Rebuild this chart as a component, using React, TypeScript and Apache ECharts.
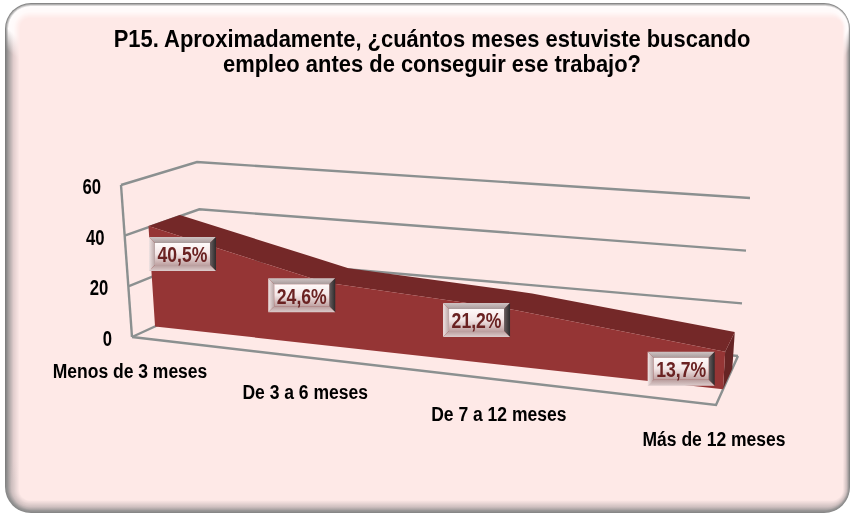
import React, { useEffect, useRef } from "react";
import * as echarts from "echarts";

const titleLines = ["P15. Aproximadamente, ¿cuántos meses estuviste buscando", "empleo antes de conseguir ese trabajo?"];
const categories = ["Menos de 3 meses", "De 3 a 6 meses", "De 7 a 12 meses", "Más de 12 meses"];
const values = [40.5, 24.6, 21.2, 13.7];
const dataLabels = ["40,5%", "24,6%", "21,2%", "13,7%"];
const valueTicks = [0, 20, 40, 60];

// layout of the 3D box
const W = 853, H = 515;
const GRID = { left: 100, top: 50, width: 600, height: 400 };
const FLOOR = { fl: [132, 337], fr: [716, 405], bl: [204, 304], br: [738, 356] };
const TOP = { fl: [121, 185], fr: [724, 237], bl: [197, 162], br: [750, 198] };
const PERSPECTIVE = 1.167;
const DEPTH_FRONT = 0.32, DEPTH_BACK = 0.74;
const LABEL_OFFSETS = [[34, 28], [-22, 13], [-38, 10], [-44, 17]];
const FONT = "'Liberation Sans',Arial,sans-serif";

const mix = (a: number[], b: number[], t: number) => [a[0] + (b[0] - a[0]) * t, a[1] + (b[1] - a[1]) * t];

function makeProjector(api: any) {
  return (cat: number, val: number, depth: number) => {
    const p = api.coord([cat, val]);
    const u = (p[0] - GRID.left) / GRID.width;
    const v = (GRID.top + GRID.height - p[1]) / GRID.height;
    const s = u / (u + PERSPECTIVE * (1 - u));
    const floor = mix(mix(FLOOR.fl, FLOOR.fr, s), mix(FLOOR.bl, FLOOR.br, s), depth);
    const top = mix(mix(TOP.fl, TOP.fr, s), mix(TOP.bl, TOP.br, s), depth);
    return mix(floor, top, v);
  };
}

function narrowText(text: string, x: number, y: number, size: number, scaleX: number, fill: string, align = "center") {
  return {
    type: "text",
    x,
    y,
    scaleX,
    silent: true,
    style: { text, x: 0, y: 0, align, verticalAlign: "middle", fontFamily: FONT, fontWeight: "bold", fontSize: size, fill },
  };
}

const LINE = { stroke: "#8b9090", lineWidth: 2.4, fill: null as any };
const lastCat = categories.length - 1;
const maxTick = valueTicks[valueTicks.length - 1];

function renderWall(_: any, api: any) {
  const P = makeProjector(api);
  const v = api.value(1);
  const corner = P(0, v, 0);
  const children: any[] = [
    { type: "polyline", shape: { points: [P(0, v, 0), P(0, v, 1), P(lastCat, v, 1)] }, style: LINE },
    narrowText(String(v), corner[0] - 20, corner[1] + 1, 22, 0.76, "#000", "right"),
  ];
  if (v === 0) {
    children.push({
      type: "polyline",
      shape: { points: [P(0, 0, 0), P(lastCat, 0, 0), P(lastCat, 0, 1)] },
      style: LINE,
    });
    children.push({ type: "line", shape: { x1: P(0, 0, 0)[0], y1: P(0, 0, 0)[1], x2: P(0, maxTick, 0)[0], y2: P(0, maxTick, 0)[1] }, style: LINE });
  }
  return { type: "group", children };
}

function renderArea(params: any, api: any) {
  if (params.dataIndex !== 0) return { type: "group", children: [] };
  const P = makeProjector(api);
  const idx = values.map((_, i) => i);
  const front = [...idx.map((i) => P(i, values[i], DEPTH_FRONT)), P(lastCat, 0, DEPTH_FRONT), P(0, 0, DEPTH_FRONT)];
  const top = [
    ...idx.map((i) => P(i, values[i], DEPTH_FRONT)),
    ...idx.slice().reverse().map((i) => P(i, values[i], DEPTH_BACK)),
  ];
  const side = [
    P(lastCat, values[lastCat], DEPTH_FRONT), P(lastCat, values[lastCat], DEPTH_BACK),
    P(lastCat, 0, DEPTH_BACK), P(lastCat, 0, DEPTH_FRONT),
  ];
  return {
    type: "group",
    children: [
      { type: "polygon", shape: { points: side }, style: { fill: "#662424" } },
      { type: "polygon", shape: { points: top }, style: { fill: "#742828" } },
      { type: "polygon", shape: { points: front }, style: { fill: "#953535" } },
    ],
  };
}

function renderDataLabel(params: any, api: any) {
  const P = makeProjector(api);
  const i = params.dataIndex;
  const a = P(i, api.value(1), DEPTH_FRONT);
  const cx = a[0] + LABEL_OFFSETS[i][0], cy = a[1] + LABEL_OFFSETS[i][1];
  const w = 67, h = 34, b = 6;
  const x0 = cx - w / 2, y0 = cy - h / 2, x1 = cx + w / 2, y1 = cy + h / 2;
  const trap = (pts: number[][], fill: any) => ({ type: "polygon", shape: { points: pts }, style: { fill } });
  const grad = (x: number, y: number, x2: number, y2: number, a1: string, a2: string) =>
    new echarts.graphic.LinearGradient(x, y, x2, y2, [{ offset: 0, color: a1 }, { offset: 1, color: a2 }]);
  return {
    type: "group",
    children: [
      trap([[x0, y0], [x1, y0], [x1 - b, y0 + b], [x0 + b, y0 + b]], grad(0, 0, 0, 1, "#cfc4c4", "#a89a9a")),
      trap([[x0, y0], [x0 + b, y0 + b], [x0 + b, y1 - b], [x0, y1]], grad(0, 0, 1, 0, "#f0e4e4", "#b8a4a4")),
      trap([[x1, y0], [x1 - b, y0 + b], [x1 - b, y1 - b], [x1, y1]], grad(0, 0, 1, 0, "#6a5f60", "#2c2a2b")),
      trap([[x0, y1], [x0 + b, y1 - b], [x1 - b, y1 - b], [x1, y1]], grad(0, 0, 0, 1, "#b89c9c", "#dccccc")),
      {
        type: "rect",
        shape: { x: x0 + b, y: y0 + b, width: w - 2 * b, height: h - 2 * b },
        style: {
          fill: new echarts.graphic.LinearGradient(0, 0, 0, 1, [
            { offset: 0, color: "#fffafa" },
            { offset: 0.5, color: "#f3e6e6" },
            { offset: 1, color: "#bfa2a2" },
          ]),
        },
      },
      narrowText(dataLabels[i], cx, cy + 0.5, 22, 0.8, "#6a2222"),
    ],
  };
}

function renderCategoryLabel(params: any, api: any) {
  const P = makeProjector(api);
  const a = P(api.value(0), 0, 0);
  return narrowText(categories[params.dataIndex], a[0] - 2, a[1] + 34.5, 20, 0.875, "#000");
}

// bevelled panel: nested rounded rectangles, each with its own top / side / bottom tint
const hex = (n: number) => Math.round(n).toString(16).padStart(2, "0");
const rgb = (c: number[]) => "#" + hex(c[0]) + hex(c[1]) + hex(c[2]);
const PINK = [254, 233, 231];
const ramp = (stops: number[][], i: number) => {
  for (let k = 1; k < stops.length; k++) {
    if (i <= stops[k][0]) {
      const t = (i - stops[k - 1][0]) / (stops[k][0] - stops[k - 1][0]);
      return [1, 2, 3].map((c) => stops[k - 1][c] + (stops[k][c] - stops[k - 1][c]) * t);
    }
  }
  return stops[stops.length - 1].slice(1);
};
const TOP_RAMP = [[0, 135, 135, 135], [1.5, 200, 198, 198], [3, 255, 252, 252], [8, 255, 250, 250], [15, ...PINK]];
const SIDE_RAMP = [[0, 125, 125, 125], [3, 165, 160, 160], [8, 225, 205, 205], [14, ...PINK]];
const BOTTOM_RAMP = [[0, 135, 135, 135], [2, 150, 148, 148], [6, 205, 190, 190], [14, ...PINK]];

function panel() {
  const rects: any[] = [
    { type: "rect", shape: { x: 0, y: 0, width: W, height: H }, style: { fill: "#ffffff" }, silent: true },
  ];
  for (let i = 0; i <= 15; i += 1) {
    const x = 5 + i, y = 3 + i;
    const width = 845 - 1.5 * i, height = 510 - 1.9 * i;
    const t = rgb(ramp(TOP_RAMP, i)), s = rgb(ramp(SIDE_RAMP, i)), b = rgb(ramp(BOTTOM_RAMP, i));
    rects.push({
      type: "rect",
      silent: true,
      shape: { x, y, width, height, r: Math.max(26 - i * 1.1, 6) },
      style: {
        fill: new echarts.graphic.LinearGradient(0, 0, 0, 1, [
          { offset: 0, color: t },
          { offset: 0.045, color: t },
          { offset: 0.09, color: s },
          { offset: 0.91, color: s },
          { offset: 0.955, color: b },
          { offset: 1, color: b },
        ]),
      },
    });
  }
  titleLines.forEach((text, i) => {
    rects.push({
      type: "text",
      silent: true,
      x: 432,
      y: 39 + i * 25,
      scaleX: 0.914,
      style: { text, x: 0, y: 0, align: "center", verticalAlign: "middle", fontFamily: FONT, fontWeight: "bold", fontSize: 24, fill: "#000" },
    });
  });
  return rects;
}

export default function App() {
  const ref = useRef<HTMLDivElement>(null);
  useEffect(() => {
    const chart = echarts.init(ref.current!, null, { renderer: "svg" });
    chart.setOption({
      animation: false,
      backgroundColor: "transparent",
      graphic: { elements: panel() },
      grid: { left: GRID.left, top: GRID.top, width: GRID.width, height: GRID.height },
      xAxis: { type: "category", data: categories, boundaryGap: false, show: false },
      yAxis: { type: "value", min: 0, max: maxTick, interval: 20, show: false },
      series: [
        { type: "custom", z: 2, silent: true, clip: false, renderItem: renderWall, data: valueTicks.map((v) => [0, v]) },
        { type: "custom", z: 3, silent: true, clip: false, renderItem: renderArea, data: values.map((v, i) => [i, v]) },
        { type: "custom", z: 4, silent: true, clip: false, renderItem: renderDataLabel, data: values.map((v, i) => [i, v]) },
        { type: "custom", z: 4, silent: true, clip: false, renderItem: renderCategoryLabel, data: categories.map((_, i) => [i, 0]) },
      ],
    });
    return () => chart.dispose();
  }, []);
  return <div ref={ref} style={{ position: "fixed", left: 0, top: 0, width: W, height: H }} />;
}
